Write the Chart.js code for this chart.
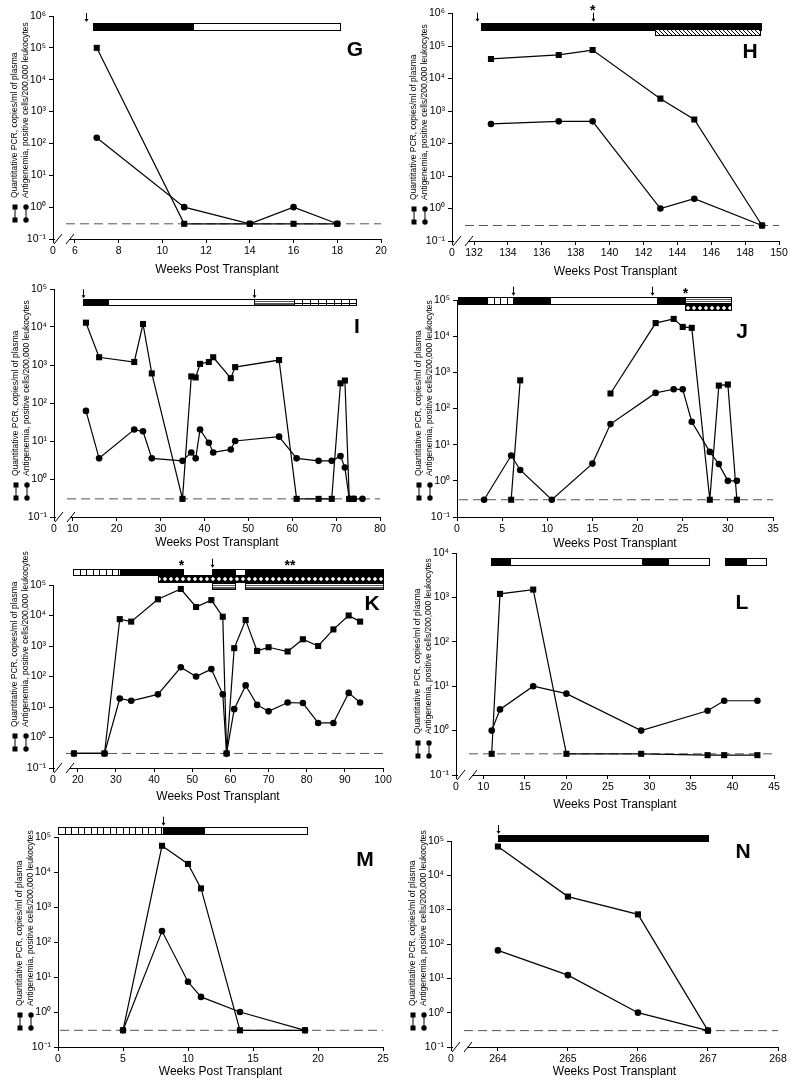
<!DOCTYPE html>
<html><head><meta charset="utf-8">
<script src="https://cdn.jsdelivr.net/npm/chart.js@4.4.0/dist/chart.umd.min.js"></script>
<style>
html,body{margin:0;padding:0;background:#fff;}
body{width:797px;height:1081px;position:relative;overflow:hidden;}
canvas{position:absolute;}
</style></head><body>
<canvas id="cG"></canvas><canvas id="cH"></canvas>
<canvas id="cI"></canvas><canvas id="cJ"></canvas>
<canvas id="cK"></canvas><canvas id="cL"></canvas>
<canvas id="cM"></canvas><canvas id="cN"></canvas>
<script>
// ================= DATA =================
const detLimit = 0.3;
const yTickLabels = ['10⁻¹','10⁰','10¹','10²','10³','10⁴','10⁵','10⁶'];
const yTitleLines = ['Quantitative PCR, copies/ml of plasma','Antigenemia, positive cells/200,000 leukocytes'];
const xTitle = 'Weeks Post Transplant';

// Panel G
const gWeeks = [7,11,14,16,18];
const gPcr = [1e5,0.3,0.3,0.3,0.3];
const gAg = [150,1,0.3,1,0.3];
const gTicks = [6,8,10,12,14,16,18,20];
const gBars = [[0,6.85,11.4,'solid'],[0,11.4,18.1,'open']];
const gArrows = [6.5];
const gStars = [];

// Panel H
const hWeeks = [133,137,139,143,145,149];
const hPcr = [4e4,5.3e4,7.5e4,2.4e3,550,0.3];
const hAg = [400,480,480,1,2,0.3];
const hTicks = [132,134,136,138,140,142,144,146,148,150];
const hBars = [[0,132.4,148.9,'solid'],[1,142.7,148.9,'diag']];
const hArrows = [132.2,139];
const hStars = [[139,'*']];

// Panel I
const iPcrWeeks = [13,16,24,26,28,35,37,38,39,41,42,46,47,57,61,66,69,71,72,73,74];
const iPcr = [1.3e4,1.6e3,1.2e3,1.2e4,600,0.3,500,470,1070,1200,1600,450,880,1350,0.3,0.3,0.3,330,390,0.3,0.3];
const iAgWeeks = [13,16,24,26,28,35,37,38,39,41,42,46,47,57,61,66,69,71,72,73,74,76];
const iAg = [62,3.5,20,18,3.5,3,5,3.5,20,9,5,6,10,13,3.5,3,3,4,2,0.3,0.3,0.3];
const iTicks = [10,20,30,40,50,60,70,80];
const iBars = [[0,12.25,18.1,'solid'],[0,18.1,51.3,'open'],[0,51.3,60.4,'hlines'],[0,60.4,74.5,'grid']];
const iArrows = [12.25,51.4];
const iStars = [];

// Panel J
const jPcrWeeks = [6,7,12,17,22,24,25,26,28,29,30,31];
const jPcr = [0.3,600,null,260,2.3e4,3e4,1.8e4,1.7e4,0.3,430,460,0.3];
const jAgWeeks = [3,6,7,10.5,15,17,22,24,25,26,28,29,30,31];
const jAg = [0.3,5,2,0.3,3,37,270,340,340,43,6.3,2.9,1,1];
const jTicks = [0,5,10,15,20,25,30,35];
const jBars = [[0,0.15,3.36,'solid'],[0,3.36,6.24,'vgrid'],[0,6.24,10.3,'solid'],[0,10.3,22.1,'open'],[0,22.1,25.3,'solid'],[0,25.3,30.4,'hlines'],[1,25.3,30.4,'cross']];
const jArrows = [6.24,21.6];
const jStars = [[25.3,'*']];

// Panel K
const kWeeks = [19,27,31,34,41,47,51,55,58,59,61,64,67,70,75,79,83,87,91,94];
const kPcr = [0.3,0.3,7.6e3,6.3e3,3.4e4,7.4e4,1.9e4,3.2e4,9.1e3,0.3,850,7.1e3,690,910,660,1.66e3,1e3,3.5e3,1e4,6.3e3];
const kAg = [0.3,0.3,19,16,26,200,100,175,26,0.3,8.5,51,11.7,7.2,14,13.5,3,3,29,14];
const kTicks = [20,30,40,50,60,70,80,90,100];
const kBars = [[0,18.85,31.25,'vgrid'],[0,31.25,47.5,'solid'],[0,55.2,61.3,'solid'],[0,61.3,63.8,'open'],[0,63.8,100,'solid'],[1,41.1,100,'cross'],[2,55.2,61.3,'hlines'],[2,63.8,100,'hlines']];
const kArrows = [55.2];
const kStars = [[47.2,'*'],[75.6,'**']];

// Panel L
const lWeeks = [11,12,16,20,29,37,39,43];
const lPcr = [0.3,1.2e3,1.5e3,0.3,0.3,0.28,0.28,0.28];
const lAg = [1,3,10,6.8,1,2.8,4.7,4.7];
const lTicks = [10,15,20,25,30,35,40,45];
const lBars = [[0,10.9,13.2,'solid'],[0,13.2,29.05,'open'],[0,29.05,32.2,'solid'],[0,32.2,37.1,'open'],[0,39.1,41.6,'solid'],[0,41.6,44,'open']];
const lArrows = [];
const lStars = [];

// Panel M
const mWeeks = [5,8,10,11,14,19];
const mPcr = [0.3,5.6e4,1.7e4,3.4e3,0.3,0.3];
const mAg = [0.3,205,7.3,2.7,1,0.3];
const mTicks = [0,5,10,15,20,25];
const mBars = [[0,0,8.05,'vgrid'],[0,8.05,11.2,'solid'],[0,11.2,19.1,'open']];
const mArrows = [8.05];
const mStars = [];

// Panel N
const nWeeks = [264,265,266,267];
const nPcr = [6.9e4,2.4e3,730,0.3];
const nAg = [65,12.4,1,0.3];
const nTicks = [264,265,266,267,268];
const nBars = [[0,264,267,'solid']];
const nArrows = [264];
const nStars = [];

// ================= LAYOUT / STYLE =================
const FONT = '"Liberation Sans", Arial, Helvetica, sans-serif';

const panels = [
 {id:'cG', letter:'G', d:{pw:gWeeks,p:gPcr,aw:gWeeks,a:gAg,ticks:gTicks,bars:gBars,arrows:gArrows,stars:gStars},
  L:{box:[0,0,400,283], area:[53,16,381,239], xmin:5, xmax:20, brk:true, ymax:1e6, rows:[[7,6.7]], letter:[-26,34], xGap:31}},
 {id:'cH', letter:'H', d:{pw:hWeeks,p:hPcr,aw:hWeeks,a:hAg,ticks:hTicks,bars:hBars,arrows:hArrows,stars:hStars},
  L:{box:[397,0,400,283], area:[452,13.5,779,241], xmin:130.7, xmax:150, brk:true, ymax:1e6, rows:[[9.2,6.6],[15.8,6]], letter:[-29,38.5], xGap:31}},
 {id:'cI', letter:'I', d:{pw:iPcrWeeks,p:iPcr,aw:iAgWeeks,a:iAg,ticks:iTicks,bars:iBars,arrows:iArrows,stars:iStars},
  L:{box:[0,275,400,278], area:[54,289,380,517], xmin:5.72, xmax:80, brk:true, ymax:1e5, rows:[[10.3,6]], letter:[-23,38], xGap:26}},
 {id:'cJ', letter:'J', d:{pw:jPcrWeeks,p:jPcr,aw:jAgWeeks,a:jAg,ticks:jTicks,bars:jBars,arrows:jArrows,stars:jStars},
  L:{box:[397,275,400,278], area:[457,300,773,517], xmin:0, xmax:35, brk:false, ymax:1e5, rows:[[-3.3,6.6],[3.3,7.4]], letter:[-31,32], xGap:27}},
 {id:'cK', letter:'K', d:{pw:kWeeks,p:kPcr,aw:kWeeks,a:kAg,ticks:kTicks,bars:kBars,arrows:kArrows,stars:kStars},
  L:{box:[0,540,400,273], area:[53,585,383,768], xmin:13.5, xmax:100, brk:true, ymax:1e5, rows:[[-16.3,6.3],[-10,6.5],[-2,5.5]], letter:[-11,19], xGap:29}},
 {id:'cL', letter:'L', d:{pw:lWeeks,p:lPcr,aw:lWeeks,a:lAg,ticks:lTicks,bars:lBars,arrows:lArrows,stars:lStars},
  L:{box:[397,540,400,273], area:[456,553,774,775], xmin:6.7, xmax:45, brk:true, ymax:1e4, rows:[[4.7,6.6]], letter:[-32,50], xGap:30}},
 {id:'cM', letter:'M', d:{pw:mWeeks,p:mPcr,aw:mWeeks,a:mAg,ticks:mTicks,bars:mBars,arrows:mArrows,stars:mStars},
  L:{box:[0,805,400,276], area:[58,837,383,1047], xmin:0, xmax:25, brk:false, ymax:1e5, rows:[[-10.3,6.6]], letter:[-18,23], xGap:25}},
 {id:'cN', letter:'N', d:{pw:nWeeks,p:nPcr,aw:nWeeks,a:nAg,ticks:nTicks,bars:nBars,arrows:nArrows,stars:nStars},
  L:{box:[397,805,400,276], area:[451,841,778,1047], xmin:263.33, xmax:268, brk:true, ymax:1e5, rows:[[-6,6]], letter:[-35,11], xGap:25}}
];

function crossPattern(ctx){
  const c=document.createElement('canvas'); c.width=6; c.height=6;
  const g=c.getContext('2d');
  g.fillStyle='#000'; g.fillRect(0,0,6,6);
  g.fillStyle='#fff'; g.beginPath(); g.moveTo(3,0.8); g.lineTo(5.2,3); g.lineTo(3,5.2); g.lineTo(0.8,3); g.closePath(); g.fill();
  return ctx.createPattern(c,'repeat');
}
function diagPattern(ctx){
  const c=document.createElement('canvas'); c.width=4; c.height=4;
  const g=c.getContext('2d');
  g.fillStyle='#fff'; g.fillRect(0,0,4,4);
  g.strokeStyle='#000'; g.lineWidth=1; g.beginPath(); g.moveTo(-1,-1); g.lineTo(5,5); g.stroke();
  return ctx.createPattern(c,'repeat');
}

function drawBar(ctx,x0,y0,w,h,kind){
  ctx.save();
  ctx.beginPath(); ctx.rect(x0,y0,w,h); ctx.clip();
  if(kind==='solid'){ ctx.fillStyle='#000'; ctx.fillRect(x0,y0,w,h); }
  else if(kind==='open'){ ctx.fillStyle='#fff'; ctx.fillRect(x0,y0,w,h); }
  else if(kind==='vgrid' || kind==='grid'){
    ctx.fillStyle='#fff'; ctx.fillRect(x0,y0,w,h);
    ctx.strokeStyle='#000'; ctx.lineWidth=1;
    const cell = kind==='grid'?7.8:6.4;
    ctx.beginPath();
    for(let x=x0+cell;x<x0+w-1;x+=cell){ ctx.moveTo(Math.round(x)+0.5,y0); ctx.lineTo(Math.round(x)+0.5,y0+h); }
    if(kind==='grid'){ ctx.moveTo(x0,Math.round(y0+h/2)+0.5); ctx.lineTo(x0+w,Math.round(y0+h/2)+0.5); }
    ctx.stroke();
  }
  else if(kind==='hlines'){
    ctx.fillStyle='#fff'; ctx.fillRect(x0,y0,w,h);
    ctx.strokeStyle='#555'; ctx.lineWidth=1;
    ctx.beginPath();
    for(let k=1;k<4;k++){ const yy=Math.round(y0+h*k/4)+0.5; ctx.moveTo(x0,yy); ctx.lineTo(x0+w,yy); }
    ctx.stroke();
  }
  else if(kind==='cross'){ ctx.fillStyle=crossPattern(ctx); ctx.fillRect(x0,y0,w,h); }
  else if(kind==='diag'){ ctx.fillStyle=diagPattern(ctx); ctx.fillRect(x0,y0,w,h); }
  ctx.restore();
  ctx.strokeStyle='#000'; ctx.lineWidth=1;
  ctx.strokeRect(x0,y0,w,h);
}

function makeDecor(P){
  const {d,L,letter} = P;
  return {
    id:'decor'+letter,
    beforeDatasetsDraw(chart){
      const {ctx, chartArea:{left:l,right:r}, scales:{y}} = chart;
      const yd = y.getPixelForValue(detLimit);
      ctx.save();
      ctx.strokeStyle='#555'; ctx.lineWidth=1; ctx.setLineDash([9,5]);
      ctx.beginPath(); ctx.moveTo(l+(L.brk?13:2), yd); ctx.lineTo(r, yd); ctx.stroke();
      ctx.restore();
    },
    afterDraw(chart){
      const {ctx, chartArea:{left:l,right:r,top:t,bottom:b}, scales:{x}} = chart;
      ctx.save();
      // treatment bars
      d.bars.forEach(([row,from,to,kind])=>{
        const [ry,rh]=L.rows[row];
        const x0=x.getPixelForValue(from), x1=x.getPixelForValue(to);
        drawBar(ctx, Math.round(x0)+0.5, Math.round(t+ry)+0.5, Math.round(x1-x0), Math.round(rh), kind);
      });
      const barTop = t + L.rows[0][0];
      // arrows
      ctx.strokeStyle='#000'; ctx.fillStyle='#000'; ctx.lineWidth=1;
      d.arrows.forEach(w=>{
        const px=Math.round(x.getPixelForValue(w))+0.5;
        ctx.beginPath(); ctx.moveTo(px,barTop-10); ctx.lineTo(px,barTop-3); ctx.stroke();
        ctx.beginPath(); ctx.moveTo(px-2,barTop-4); ctx.lineTo(px+2,barTop-4); ctx.lineTo(px,barTop-1); ctx.closePath(); ctx.fill();
      });
      // stars
      ctx.font='bold 14px '+FONT; ctx.textAlign='center'; ctx.textBaseline='middle';
      d.stars.forEach(([w,s])=>{
        const px=x.getPixelForValue(w);
        const hasArrow = d.arrows.some(a=>Math.abs(a-w)<0.3);
        ctx.fillText(s, px, barTop - (hasArrow?12:3));
      });
      // panel letter
      ctx.font='bold 21px '+FONT; ctx.textAlign='center'; ctx.textBaseline='middle';
      ctx.fillText(letter, r+L.letter[0], t+L.letter[1]);
      // y-axis title (rotated, two lines)
      ctx.save();
      ctx.translate(l-38, b-41);
      ctx.rotate(-Math.PI/2);
      ctx.font='8.5px '+FONT; ctx.textAlign='left'; ctx.textBaseline='middle';
      ctx.fillText(yTitleLines[0],0,0);
      ctx.fillText(yTitleLines[1],0,11);
      ctx.restore();
      // legend glyphs
      const gx1=l-38, gx2=l-27, gy1=b-32, gy2=b-19;
      ctx.beginPath(); ctx.moveTo(gx1,gy1); ctx.lineTo(gx1,gy2); ctx.moveTo(gx2,gy1); ctx.lineTo(gx2,gy2); ctx.stroke();
      ctx.fillRect(gx1-2.5,gy1-2.5,5,5); ctx.fillRect(gx1-2.5,gy2-2.5,5,5);
      ctx.beginPath(); ctx.arc(gx2,gy1,2.7,0,Math.PI*2); ctx.arc(gx2,gy2,2.7,0,Math.PI*2); ctx.fill();
      // axis break marks
      if(L.brk){
        ctx.fillStyle='#fff'; ctx.fillRect(l+2,b-2,14,4);
        ctx.strokeStyle='#000'; ctx.lineWidth=1;
        [l+5,l+17].forEach(cx=>{ ctx.beginPath(); ctx.moveTo(cx-4,b+5); ctx.lineTo(cx+4,b-5); ctx.stroke(); });
      }
      ctx.restore();
    }
  };
}

function build(P){
  const {id,d,L} = P;
  const cv=document.getElementById(id);
  const [bx,by,bw,bh]=L.box, [l,t,r,b]=L.area;
  cv.width=bw; cv.height=bh; cv.style.left=bx+'px'; cv.style.top=by+'px';
  const W=40, H=L.xGap+7.2;
  const xTickVals = (L.brk?[L.xmin]:[]).concat(d.ticks);
  const yTickVals = [];
  for(let e=-1; Math.pow(10,e)<=L.ymax*1.0001; e++) yTickVals.push(Math.pow(10,e));
  new Chart(cv,{
    type:'line',
    data:{datasets:[
      {label:'Quantitative PCR', data:d.pw.map((w,i)=>({x:w,y:d.p[i]})), pointStyle:'rect', pointRadius:4.3,
       borderColor:'#000', backgroundColor:'#000', borderWidth:1.2, pointBorderWidth:0, tension:0, spanGaps:false},
      {label:'Antigenemia', data:d.aw.map((w,i)=>({x:w,y:d.a[i]})), pointStyle:'circle', pointRadius:3.3,
       borderColor:'#000', backgroundColor:'#000', borderWidth:1.2, pointBorderWidth:0, tension:0, spanGaps:false}
    ]},
    options:{
      responsive:false, animation:false, devicePixelRatio:1,
      layout:{padding:{left:l-bx-W, top:t-by, right:bx+bw-r, bottom:by+bh-b-H}},
      plugins:{legend:{display:false}, tooltip:{enabled:false}},
      scales:{
        x:{type:'linear', min:L.xmin, max:L.xmax,
           afterBuildTicks:s=>{ s.ticks=xTickVals.map(v=>({value:v})); },
           afterFit:s=>{ s.height=H; },
           ticks:{autoSkip:false, maxRotation:0, minRotation:0, padding:2, color:'#000', font:{family:FONT,size:10.5},
                  callback:v=>(L.brk && v===L.xmin)?'0':String(v)},
           grid:{drawOnChartArea:false, drawTicks:true, tickLength:4, color:'#000'},
           border:{display:true, color:'#000', width:1},
           title:{display:true, text:xTitle, color:'#000', padding:0, font:{family:FONT,size:12,lineHeight:1.2}}},
        y:{type:'logarithmic', min:0.1, max:L.ymax,
           afterBuildTicks:s=>{ s.ticks=yTickVals.map(v=>({value:v})); },
           afterFit:s=>{ s.width=W; },
           ticks:{autoSkip:false, padding:3, color:'#000', font:{family:FONT,size:10.5},
                  callback:v=>yTickLabels[Math.round(Math.log10(v))+1]},
           grid:{drawOnChartArea:false, drawTicks:true, tickLength:4, color:'#000'},
           border:{display:true, color:'#000', width:1}}
      }
    },
    plugins:[makeDecor(P)]
  });
}
panels.forEach(build);
</script>
</body></html>
